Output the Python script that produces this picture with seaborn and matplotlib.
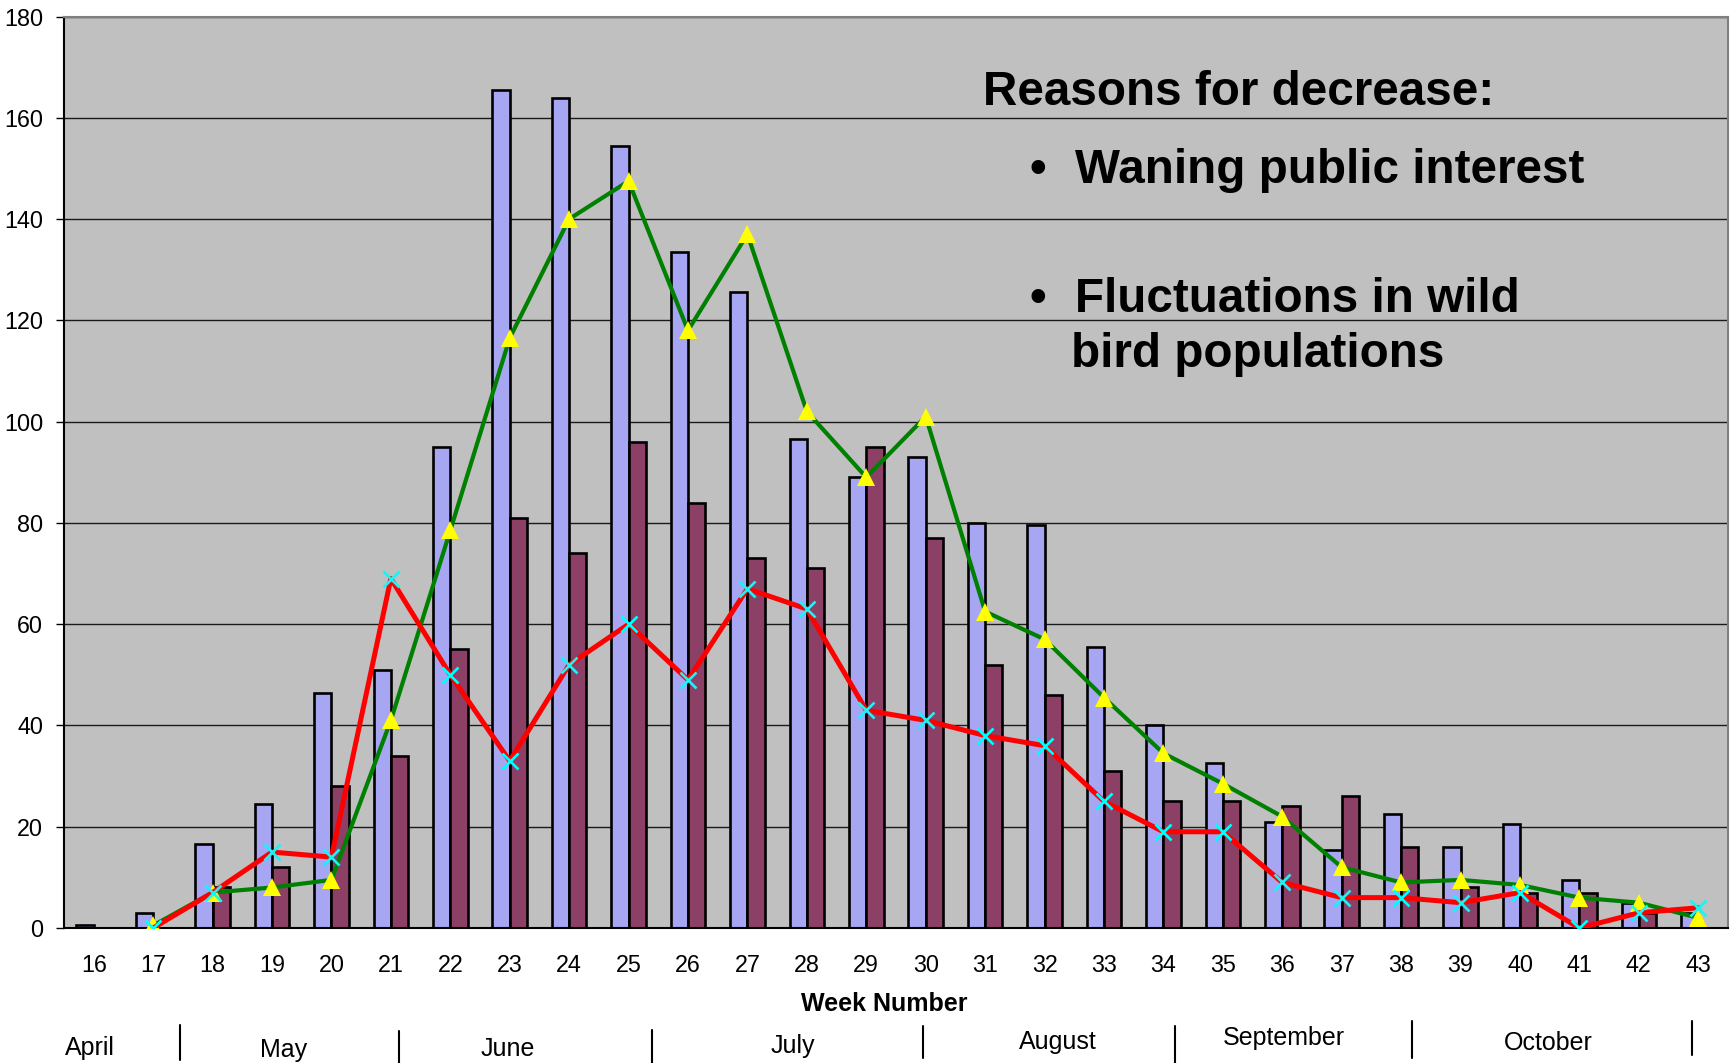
import numpy as np
import pandas as pd
import matplotlib
matplotlib.use("Agg")
import matplotlib.pyplot as plt
import seaborn as sns

# ---------------- data ----------------
weeks = list(range(16, 44))
series_a = [0.5, 3, 16.5, 24.5, 46.5, 51, 95, 165.5, 164, 154.5, 133.5, 125.5, 96.5, 89,
            93, 80, 79.5, 55.5, 40, 32.5, 21, 15.5, 22.5, 16, 20.5, 9.5, 5, 3]
series_b = [0, 0, 8, 12, 28, 34, 55, 81, 74, 96, 84, 73, 71, 95,
            77, 52, 46, 31, 25, 25, 24, 26, 16, 8, 7, 7, 3, 0]
green_line = [np.nan, 0.5, 7, 8, 9.5, 41, 78.5, 116.5, 140, 147.5, 118, 137, 102, 89,
              101, 62.5, 57, 45.5, 34.5, 28.5, 22, 12, 9, 9.5, 8.5, 6, 5, 2]
red_line = [np.nan, 0, 7, 15, 14, 69, 50, 33, 52, 60, 49, 67, 63, 43,
            41, 38, 36, 25, 19, 19, 9, 6, 6, 5, 7, 0, 3, 4]
months = ["April", "May", "June", "July", "August", "September", "October"]
y_ticks = list(range(0, 181, 20))

# ---------------- style ----------------
sns.set_theme(style="white")
plt.rcParams["font.family"] = ["Liberation Sans", "DejaVu Sans"]
plt.rcParams["text.color"] = "black"
plt.rcParams["axes.labelcolor"] = "black"
plt.rcParams["xtick.color"] = "black"
plt.rcParams["ytick.color"] = "black"

W, H = 1732, 1063
fig = plt.figure(figsize=(W / 100, H / 100), dpi=100, facecolor="white")
ax = fig.add_axes([64 / W, 1 - 928 / H, 1664 / W, 911.5 / H])
ax.set_facecolor("#C0C0C0")

week_lbl = [str(w) for w in weeks]
df = pd.DataFrame({
    "week": week_lbl * 2,
    "value": series_a + series_b,
    "series": ["a"] * len(weeks) + ["b"] * len(weeks),
})

ax.set_axisbelow(True)
ax.yaxis.grid(True, color="#1a1a1a", linewidth=1.0)
ax.xaxis.grid(False)

sns.barplot(data=df, x="week", y="value", hue="series", order=week_lbl,
            hue_order=["a", "b"], palette=["#9999FF", "#993366"],
            width=0.58, edgecolor="black", linewidth=1.9, legend=False,
            ax=ax, errorbar=None)

pos = np.arange(len(weeks))
sns.lineplot(x=pos, y=green_line, color="#008000", linewidth=3.0, marker="^",
             markersize=13, markerfacecolor="#FFFF00", markeredgecolor="#FFFF00",
             markeredgewidth=0, ax=ax, zorder=4)
sns.lineplot(x=pos, y=red_line, color="#FF0000", linewidth=3.6, marker="x",
             markersize=12, markeredgecolor="#00FFFF", markeredgewidth=1.9,
             ax=ax, zorder=5)

ax.set_xlim(-0.5, len(weeks) - 0.5)
ax.set_ylim(0, 180)
ax.set_yticks(y_ticks)
ax.set_yticklabels([str(v) for v in y_ticks])
ax.set_xticks(pos)
ax.set_xticklabels(week_lbl)
ax.set_xticks(np.arange(-0.5, len(weeks), 1.0), minor=True)
ax.tick_params(axis="x", which="major", length=0, pad=19, labelsize=16.8, colors="black")
ax.tick_params(axis="x", which="minor", length=6, width=1, color="#333333", direction="out")
ax.tick_params(axis="y", which="major", length=6, width=1, color="black",
               direction="out", left=True, pad=9, labelsize=16.8, labelcolor="black")
ax.set_xlabel("")
ax.set_ylabel("")

for s in ["left", "bottom"]:
    ax.spines[s].set_color("black")
    ax.spines[s].set_linewidth(1.5)
for s in ["top", "right"]:
    ax.spines[s].set_color("#808080")
    ax.spines[s].set_linewidth(1.5)

ax.text(0.493, -(1004 - 928) / 911.5, "Week Number", transform=ax.transAxes,
        ha="center", va="center", fontsize=18, fontweight="bold", color="black")

# month row
trans = ax.get_xaxis_transform()
def yfrac(py):
    return (928 - py) / 911.5
month_x = [-0.06, 3.2, 6.96, 11.77, 16.23, 20.02, 24.47]
month_y = [1047.5, 1050.5, 1048.5, 1046.5, 1042.5, 1037.5, 1042.5]
for name, mx, my in zip(months, month_x, month_y):
    ax.text(mx, yfrac(my), name, transform=trans, ha="center", va="center",
            fontsize=18, color="black", clip_on=False)
sep_x = [1.45, 5.14, 9.40, 13.96, 18.19, 22.18, 26.89]
sep_y = [(1025, 1060), (1031, 1063), (1030, 1063), (1026, 1058), (1026, 1063),
         (1021, 1058), (1021, 1055)]
for sx, (y0, y1) in zip(sep_x, sep_y):
    ax.plot([sx, sx], [yfrac(y0), yfrac(y1)], transform=trans, color="black",
            linewidth=1.5, clip_on=False)

# annotation
fs = 34.3
fig.text(983 / W, 1 - 105 / H, "Reasons for decrease:", fontsize=fs,
         fontweight="bold", va="baseline", ha="left", color="black")
fig.text(1038 / W, 1 - 183 / H, "•", fontsize=fs, fontweight="bold", va="baseline",
         ha="center", color="black")
fig.text(1075 / W, 1 - 183 / H, "Waning public interest", fontsize=fs,
         fontweight="bold", va="baseline", ha="left", color="black")
fig.text(1038 / W, 1 - 312 / H, "•", fontsize=fs, fontweight="bold", va="baseline",
         ha="center", color="black")
fig.text(1075 / W, 1 - 312 / H, "Fluctuations in wild", fontsize=fs,
         fontweight="bold", va="baseline", ha="left", color="black")
fig.text(1071 / W, 1 - 367 / H, "bird populations", fontsize=fs,
         fontweight="bold", va="baseline", ha="left", color="black")

fig.savefig("out.png", dpi=100, facecolor="white")
